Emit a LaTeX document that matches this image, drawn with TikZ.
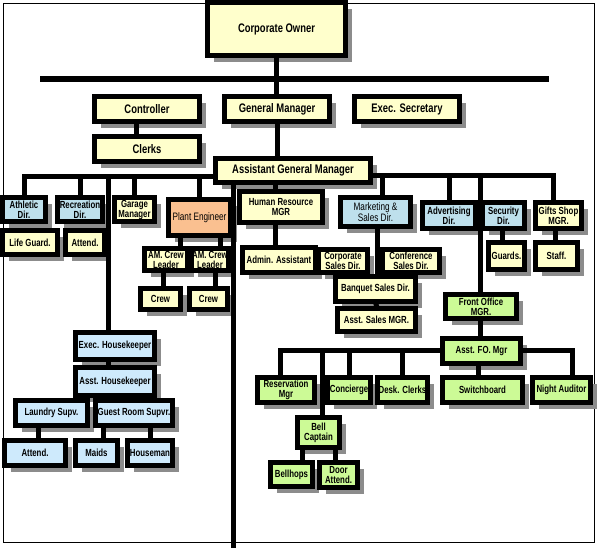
\documentclass[tikz,border=0pt]{standalone}
\usepackage{fontspec}
\newfontfamily\orgfont[FakeStretch=0.76]{Liberation Sans}
\usetikzlibrary{shadows}
\definecolor{cream}{RGB}{255,255,204}
\definecolor{sky}{RGB}{190,224,236}
\definecolor{ice}{RGB}{206,234,252}
\definecolor{peach}{RGB}{250,192,144}
\definecolor{lime}{RGB}{204,250,150}

\tikzset{
  box/.style={draw=black,line width=5pt,inner sep=0pt,align=center,
              font=\orgfont\bfseries\fontsize{10.3}{10}\selectfont,
              drop shadow={shadow xshift=6.5pt,shadow yshift=-6.5pt,
                           fill=black!45,opacity=1}},
  big/.style={font=\orgfont\bfseries\fontsize{12.4}{13}\selectfont},
  light/.style={font=\orgfont\fontsize{10.8}{11}\selectfont},
  sz/.style 2 args={minimum width=#1pt,minimum height=#2pt},
  link/.style={line width=5pt,line cap=rect},
  frame/.style={line width=0.8pt}}

\begin{document}
\begin{tikzpicture}[x=1pt,y=-1pt,line join=miter]

  \useasboundingbox (0,0) rectangle (598,548);
  \draw[frame] (3,3) rectangle (594,542);

  % top of the chart
  \node[box,big,fill=cream,sz={138}{53}] (own)   at (276.5,29)  {Corporate Owner};
  \node[box,big,fill=cream,sz={105}{25}] (ctrl)  at (147,109)   {Controller};
  \node[box,big,fill=cream,sz={105}{25}] (gm)    at (277,109)   {General Manager};
  \node[box,big,fill=cream,sz={105}{25}] (sec)   at (407,109)   {Exec. Secretary};
  \node[box,big,fill=cream,sz={105}{25}] (clerk) at (147,149)   {Clerks};
  \node[box,big,fill=cream,sz={155}{24}] (agm)   at (293,170.5) {Assistant General Manager};

  % left branch
  \node[box,fill=sky,sz={43}{24}]   (ath)  at (24,209.5)    {Athletic\\Dir.};
  \node[box,fill=sky,sz={45}{24}]   (rec)  at (80,209.5)    {Recreation\\Dir.};
  \node[box,fill=cream,sz={40}{24}] (gar)  at (134.5,209.5) {Garage\\Manager};
  \node[box,fill=peach,sz={62}{36},font=\orgfont\fontsize{10.8}{11}\selectfont]
                                     (pe)   at (199.5,217.5) {Plant Engineer};
  \node[box,fill=cream,sz={55}{24}] (lg)   at (30,242.5)    {Life Guard.};
  \node[box,fill=cream,sz={39}{24}] (att1) at (85,242.5)    {Attend.};
  \node[box,fill=cream,sz={43}{22}] (cl1)  at (166,259.5)   {AM. Crew\\Leader};
  \node[box,fill=cream,sz={37}{22}] (cl2)  at (210,259.5)   {AM. Crew\\Leader};
  \node[box,fill=cream,sz={40}{21}] (cr1)  at (160.5,299)   {Crew};
  \node[box,fill=cream,sz={38}{21}] (cr2)  at (208.5,299)   {Crew};

  % housekeeping
  \node[box,fill=ice,sz={79}{27}] (eh)   at (115,346)   {Exec. Housekeeper};
  \node[box,fill=ice,sz={79}{28}] (ah)   at (115,381.5) {Asst. Housekeeper};
  \node[box,fill=ice,sz={72}{25}] (lau)  at (51.5,413)  {Laundry Supv.};
  \node[box,fill=ice,sz={77}{25}] (grs)  at (134,413)   {Guest Room Supvr.};
  \node[box,fill=ice,sz={61}{25}] (att2) at (35,453)    {Attend.};
  \node[box,fill=ice,sz={42}{25}] (maid) at (96.5,453)  {Maids};
  \node[box,fill=ice,sz={45}{25}] (hm)   at (150,453)   {Houseman};

  % middle: personnel and sales
  \node[box,fill=cream,sz={83}{31}] (hr)  at (281,207)   {Human Resource\\MGR};
  \node[box,fill=cream,sz={73}{25}] (adm) at (279,260)   {Admin. Assistant};
  \node[box,light,fill=sky,sz={70}{29}] (mkt) at (375.5,212) {Marketing \&\\Sales Dir.};
  \node[box,fill=cream,sz={49}{23}] (csd) at (343,261)   {Corporate\\Sales Dir.};
  \node[box,fill=cream,sz={57}{23}] (cfd) at (411,261)   {Conference\\Sales Dir.};
  \node[box,fill=cream,sz={80}{25}] (bsd) at (375.5,289) {Banquet Sales Dir.};
  \node[box,fill=cream,sz={78}{23}] (asm) at (376.5,320) {Asst. Sales MGR.};

  % right branch
  \node[box,fill=sky,sz={53}{26}]   (adv)  at (449,215.5)   {Advertising\\Dir.};
  \node[box,fill=sky,sz={42}{26}]   (secu) at (503.5,215.5) {Security\\Dir.};
  \node[box,fill=cream,sz={46}{26}] (gift) at (558.5,215.5) {Gifts Shop\\MGR.};
  \node[box,fill=cream,sz={36}{27}] (grd)  at (506.5,256)   {Guards.};
  \node[box,fill=cream,sz={42}{27}] (stf)  at (556.5,256)   {Staff.};

  % front office
  \node[box,fill=lime,sz={71}{24}] (fo)   at (481,306.5) {Front Office\\MGR.};
  \node[box,fill=lime,sz={78}{25}] (afo)  at (481.5,351) {Asst. FO. Mgr};
  \node[box,fill=lime,sz={57}{25}] (res)  at (286,390)   {Reservation\\Mgr};
  \node[box,fill=lime,sz={43}{25}] (con)  at (349,390)   {Concierge};
  \node[box,fill=lime,sz={50}{25}] (dsk)  at (402.5,390) {Desk. Clerks};
  \node[box,fill=lime,sz={80}{25}] (sw)   at (482.5,390) {Switchboard};
  \node[box,fill=lime,sz={58}{25}] (na)   at (561.5,390) {Night Auditor};
  \node[box,fill=lime,sz={42}{30}] (bell) at (318.5,432.5) {Bell\\Captain};
  \node[box,fill=lime,sz={42}{24}] (bh)   at (291.5,474.5) {Bellhops};
  \node[box,fill=lime,sz={38}{25}] (door) at (338.5,475)   {Door\\Attend.};

  \coordinate (barL)  at (43,79);
  \coordinate (barR)  at (546,79);
  \coordinate (spine) at (233,548);

  % ---- lines ---------------------------------------------------------------
  \draw[link,line width=6pt] (barL) -- (barR);
  \draw[link] (own.south) -- (own.south |- gm.north);
  \draw[link] (gm.south) -- (gm.south |- agm.north);
  \draw[link] ([xshift=-11]ctrl.south) -- ([xshift=-11]clerk.north);
  \draw[link] (agm.south -| spine) -- (spine);

  % bus to the left
  \draw[link] (ath.north) |- ([yshift=-6.5]agm.west);
  \draw[link] (rec.north) |- ([yshift=-6.5]agm.west);
  \draw[link] (gar.north) |- ([yshift=-6.5]agm.west);
  \draw[link] (pe.north)  |- ([yshift=-6.5]agm.west);
  \draw[link] ([xshift=-7]eh.north) |- ([yshift=-6.5]agm.west);

  \draw[link] ([xshift=-19.5]pe.south) -- ([xshift=14]cl1.north);
  \draw[link] ([xshift=20.5]pe.south)  -- ([xshift=10]cl2.north);
  \draw[link] ([xshift=-3]cl1.south)   -- ([xshift=2.5]cr1.north);
  \draw[link] ([xshift=5]cl2.south)    -- ([xshift=6.5]cr2.north);

  \draw[link] ([xshift=-7]eh.south)   -- ([xshift=-7]ah.north);
  \draw[link] ([xshift=-37]ah.south)  -- ([xshift=26.5]lau.north);
  \draw[link] ([xshift=12]ah.south)   -- ([xshift=-7]grs.north);
  \draw[link] ([xshift=-13.5]lau.south) -- ([xshift=3]att2.north);
  \draw[link] ([xshift=-31]grs.south) -- ([xshift=6.5]maid.north);
  \draw[link] ([xshift=16]grs.south)  -- (hm.north);

  % middle
  \draw[link] ([xshift=-18]agm.south) -- ([xshift=-6]hr.north);
  \draw[link] ([xshift=-6]hr.south)   -- ([xshift=-4]adm.north);
  \draw[link] ([xshift=1.5]mkt.south) -- ([xshift=1.5]bsd.north);
  \draw[link] ([xshift=0.5]bsd.south) -- (asm.north);

  % bus to the right
  \draw[link] ([xshift=6.5]mkt.north) |- ([yshift=-5.5]agm.east);
  \draw[link] (adv.north)             |- ([yshift=-5.5]agm.east);
  \draw[link] ([xshift=-1]fo.north)   |- ([yshift=-5.5]agm.east);
  \draw[link] ([xshift=-5.5]gift.north) |- ([yshift=-5.5]agm.east);
  \draw[link] ([xshift=-1.5]secu.south) -- ([xshift=-4.5]grd.north);
  \draw[link] ([xshift=-3.5]gift.south) -- ([xshift=-1.5]stf.north);

  % front office
  \draw[link] ([xshift=-1]fo.south) -- ([xshift=-1.5]afo.north);
  \draw[link] ([xshift=-6]res.north)   |- (afo.west);
  \draw[link] ([xshift=3.5]bell.north) |- (afo.west);
  \draw[link] (con.north)              |- (afo.west);
  \draw[link] (dsk.north)              |- (afo.west);
  \draw[link] ([xshift=10.5]na.north)  |- (afo.east);
  \draw[link] ([xshift=-3.5]afo.south) -- ([xshift=-4.5]sw.north);
  \draw[link] ([xshift=-16.5]bell.south) -- ([xshift=10.5]bh.north);
  \draw[link] ([xshift=16.5]bell.south)  -- ([xshift=-3.5]door.north);

\end{tikzpicture}
\end{document}
